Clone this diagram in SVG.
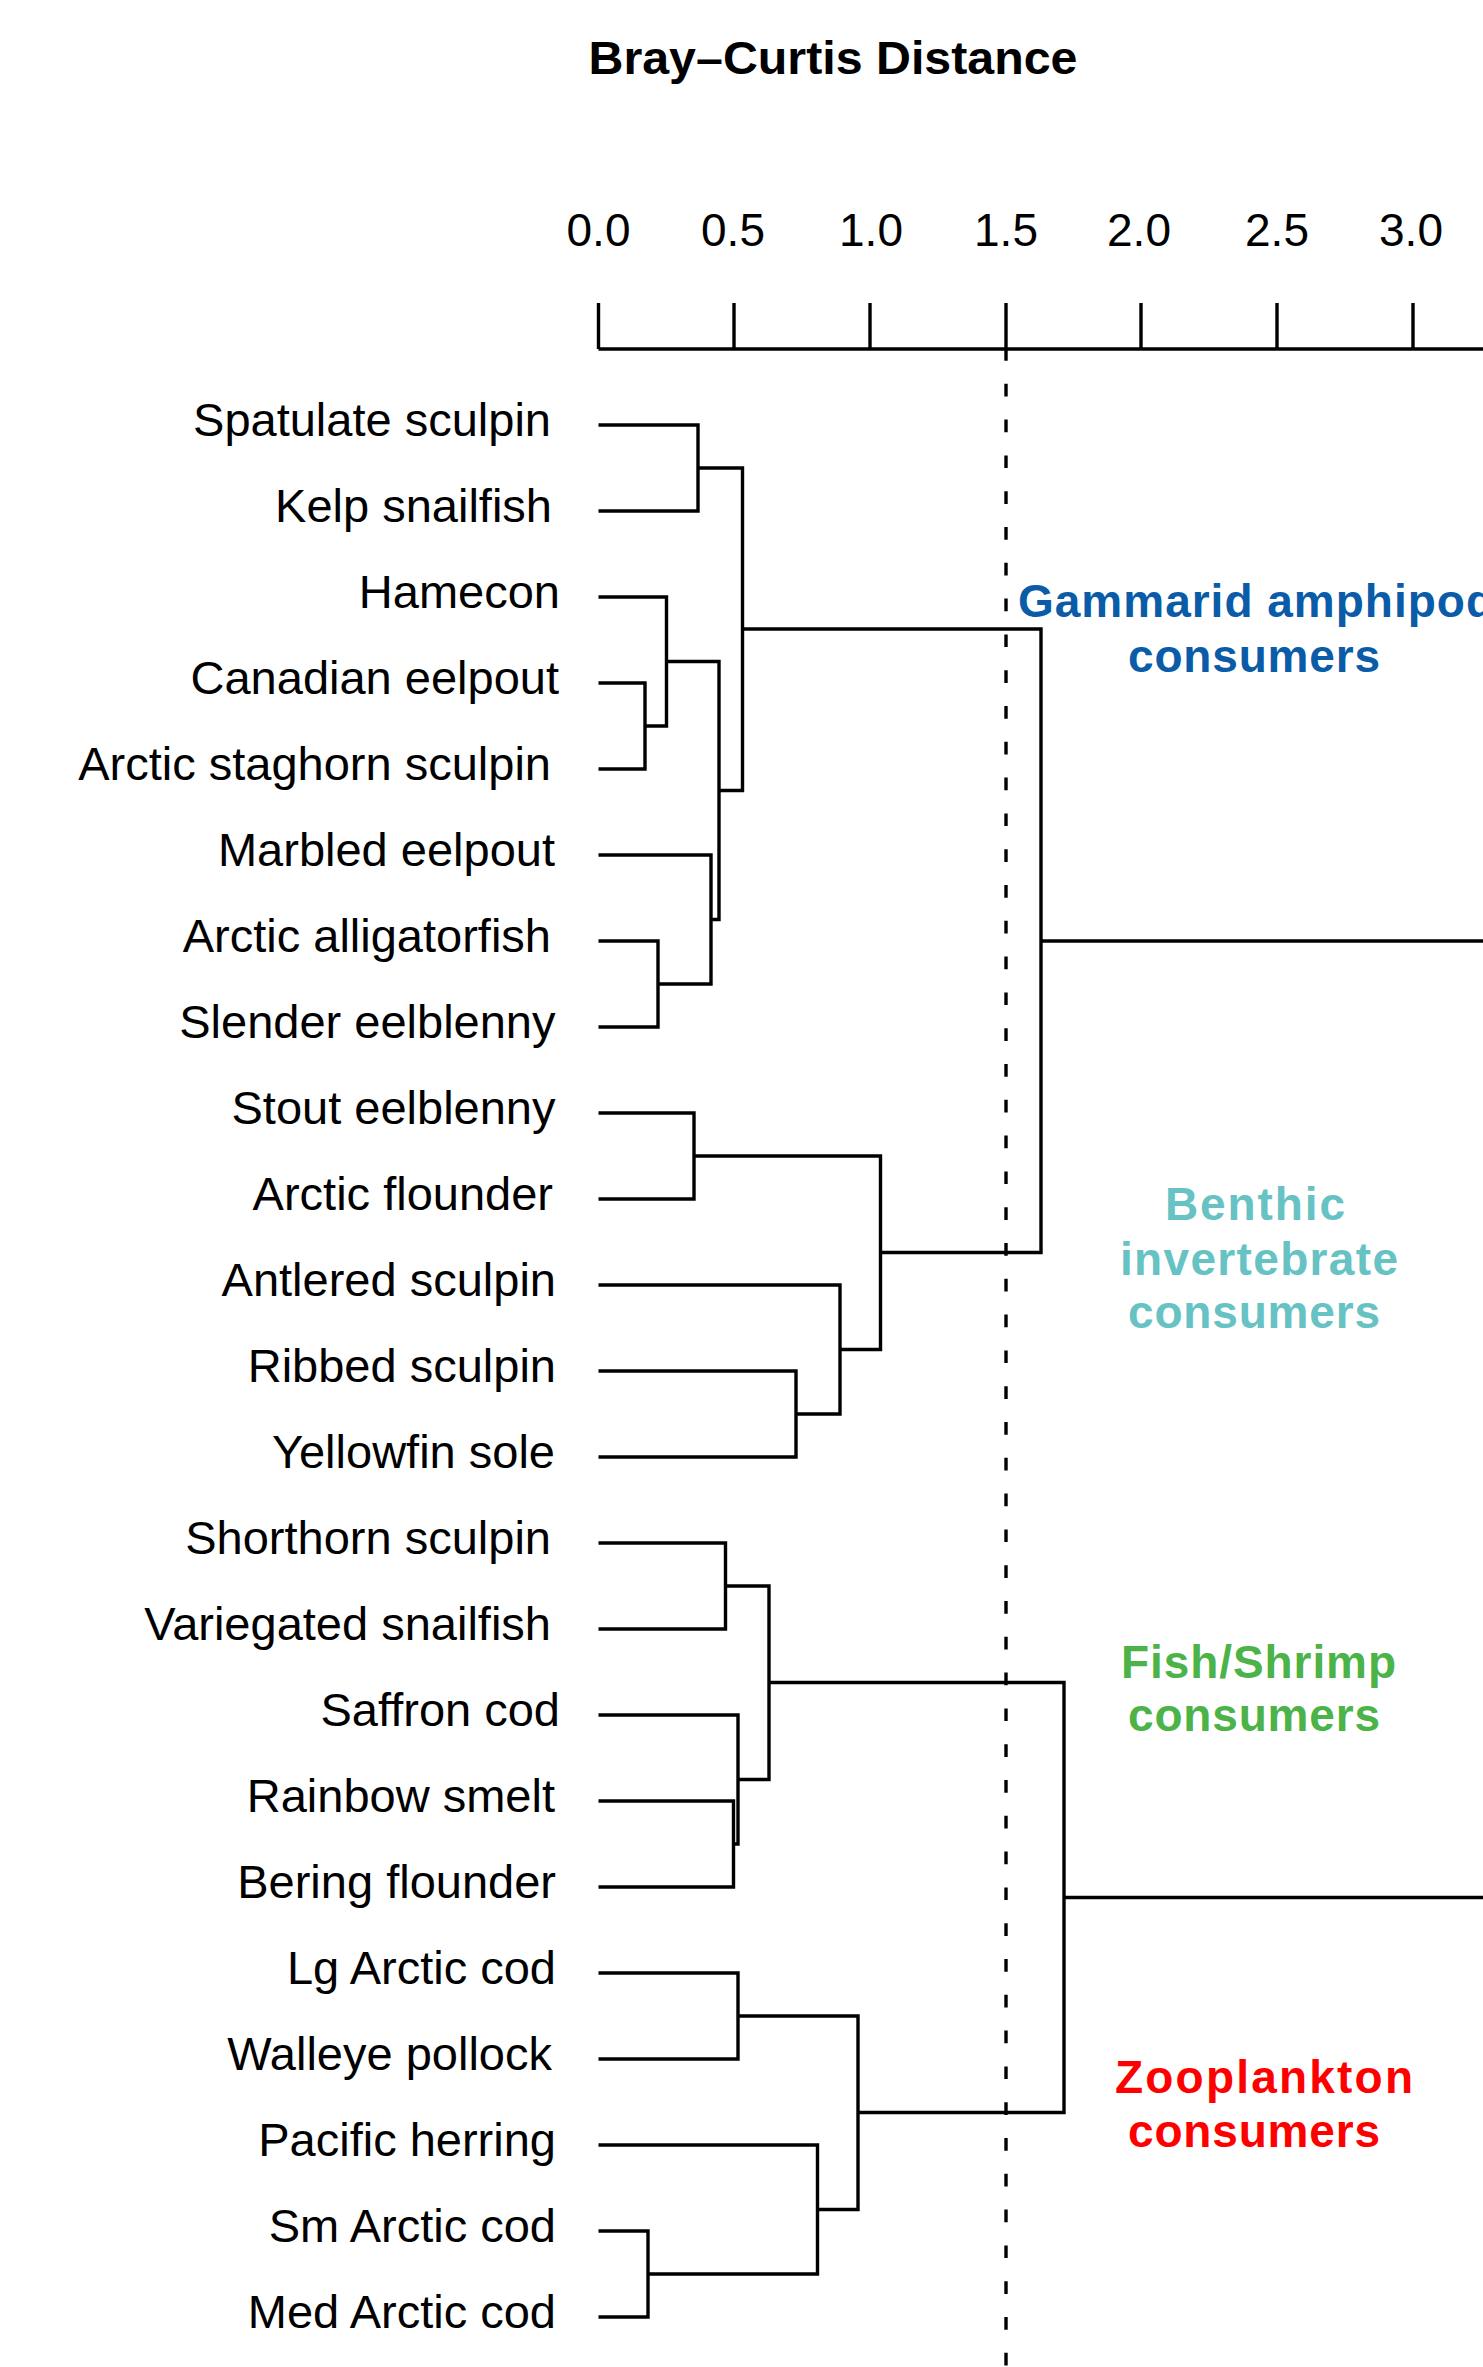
<svg xmlns="http://www.w3.org/2000/svg" width="1483" height="2367" viewBox="0 0 1483 2367">
<style>
text{font-family:"Liberation Sans",Arial,Helvetica,sans-serif;}
.title{font-size:46px;font-weight:bold;fill:#000;text-anchor:middle;}
.tick{font-size:46px;fill:#000;text-anchor:middle;}
.leaf{font-size:47px;fill:#000;text-anchor:end;}
.grp{font-size:46px;font-weight:bold;text-anchor:middle;}
.blue{fill:#0a5ca8;}
.teal{fill:#66c2c3;}
.green{fill:#4cb348;}
.red{fill:#ff0000;}
.ln{fill:none;stroke:#000;stroke-width:3.4;stroke-linejoin:miter;stroke-linecap:butt;}
.cut{fill:none;stroke:#000;stroke-width:3.4;stroke-dasharray:12.7 23.1;}
</style>
<rect width="1483" height="2367" fill="#fff"/>
<g id="title"><text class="title" x="833" y="74" textLength="489" lengthAdjust="spacingAndGlyphs">Bray–Curtis Distance</text></g>
<g id="axis">
<path class="ln" d="M598.5 349 H1483 M598.5 303 V349 M734 303 V349 M870 303 V349 M1006 303 V349 M1141 303 V349 M1277 303 V349 M1413 303 V349"/>
<text class="tick" x="598.5" y="246">0.0</text>
<text class="tick" x="733" y="246">0.5</text>
<text class="tick" x="871" y="246">1.0</text>
<text class="tick" x="1006" y="246">1.5</text>
<text class="tick" x="1139" y="246">2.0</text>
<text class="tick" x="1277" y="246">2.5</text>
<text class="tick" x="1411" y="246">3.0</text>
</g>
<g id="cutline"><path class="cut" d="M1006 348 V2367"/></g>
<g id="connectors">
<path class="ln" d="M598.5 425 H698 V511 H598.5"/>
<path class="ln" d="M598.5 683 H645 V769 H598.5"/>
<path class="ln" d="M598.5 597 H666.5 V726 H645"/>
<path class="ln" d="M598.5 941 H658 V1027 H598.5"/>
<path class="ln" d="M598.5 855 H711 V984 H658"/>
<path class="ln" d="M666.5 661.5 H719 V919.5 H711"/>
<path class="ln" d="M698 468 H742.5 V790.5 H719"/>
<path class="ln" d="M598.5 1113 H694 V1199 H598.5"/>
<path class="ln" d="M598.5 1371 H796 V1457 H598.5"/>
<path class="ln" d="M598.5 1285 H840 V1414 H796"/>
<path class="ln" d="M694 1156 H880.5 V1349.5 H840"/>
<path class="ln" d="M742.5 629 H1041 V1252.5 H880.5"/>
<path class="ln" d="M1041 941 H1483"/>
<path class="ln" d="M598.5 1543 H725.5 V1629 H598.5"/>
<path class="ln" d="M598.5 1801 H733.5 V1887 H598.5"/>
<path class="ln" d="M598.5 1715 H738 V1844 H733.5"/>
<path class="ln" d="M725.5 1586 H769 V1779.5 H738"/>
<path class="ln" d="M598.5 1973 H738 V2059 H598.5"/>
<path class="ln" d="M598.5 2231 H648 V2317 H598.5"/>
<path class="ln" d="M598.5 2145 H817.5 V2274 H648"/>
<path class="ln" d="M738 2016 H858 V2209.5 H817.5"/>
<path class="ln" d="M769 1682.5 H1064 V2112.5 H858"/>
<path class="ln" d="M1064 1897.5 H1483"/>
</g>
<g id="leaf-spatulate-sculpin"><text class="leaf" x="551" y="436">Spatulate sculpin</text></g>
<g id="leaf-kelp-snailfish"><text class="leaf" x="552" y="522">Kelp snailfish</text></g>
<g id="leaf-hamecon"><text class="leaf" x="560" y="608">Hamecon</text></g>
<g id="leaf-canadian-eelpout"><text class="leaf" x="559" y="694">Canadian eelpout</text></g>
<g id="leaf-arctic-staghorn-sculpin"><text class="leaf" x="551" y="780">Arctic staghorn sculpin</text></g>
<g id="leaf-marbled-eelpout"><text class="leaf" x="555" y="866">Marbled eelpout</text></g>
<g id="leaf-arctic-alligatorfish"><text class="leaf" x="551" y="952">Arctic alligatorfish</text></g>
<g id="leaf-slender-eelblenny"><text class="leaf" x="555.5" y="1038">Slender eelblenny</text></g>
<g id="leaf-stout-eelblenny"><text class="leaf" x="555.5" y="1124">Stout eelblenny</text></g>
<g id="leaf-arctic-flounder"><text class="leaf" x="553" y="1210">Arctic flounder</text></g>
<g id="leaf-antlered-sculpin"><text class="leaf" x="556" y="1296">Antlered sculpin</text></g>
<g id="leaf-ribbed-sculpin"><text class="leaf" x="556" y="1382">Ribbed sculpin</text></g>
<g id="leaf-yellowfin-sole"><text class="leaf" x="555" y="1468">Yellowfin sole</text></g>
<g id="leaf-shorthorn-sculpin"><text class="leaf" x="551" y="1554">Shorthorn sculpin</text></g>
<g id="leaf-variegated-snailfish"><text class="leaf" x="551" y="1640">Variegated snailfish</text></g>
<g id="leaf-saffron-cod"><text class="leaf" x="560" y="1726">Saffron cod</text></g>
<g id="leaf-rainbow-smelt"><text class="leaf" x="555" y="1812">Rainbow smelt</text></g>
<g id="leaf-bering-flounder"><text class="leaf" x="556" y="1898">Bering flounder</text></g>
<g id="leaf-lg-arctic-cod"><text class="leaf" x="556" y="1984">Lg Arctic cod</text></g>
<g id="leaf-walleye-pollock"><text class="leaf" x="552" y="2070">Walleye pollock</text></g>
<g id="leaf-pacific-herring"><text class="leaf" x="556" y="2156">Pacific herring</text></g>
<g id="leaf-sm-arctic-cod"><text class="leaf" x="556" y="2242">Sm Arctic cod</text></g>
<g id="leaf-med-arctic-cod"><text class="leaf" x="556" y="2328">Med Arctic cod</text></g>
<g id="group-gammarid">
<text class="grp blue" x="1256" y="616.5" textLength="476" lengthAdjust="spacing">Gammarid amphipod</text>
<text class="grp blue" x="1254" y="671.5" textLength="252" lengthAdjust="spacing">consumers</text>
</g>
<g id="group-benthic">
<text class="grp teal" x="1255" y="1219.5" textLength="180" lengthAdjust="spacing">Benthic</text>
<text class="grp teal" x="1259" y="1274.5" textLength="278" lengthAdjust="spacing">invertebrate</text>
<text class="grp teal" x="1254" y="1328" textLength="252" lengthAdjust="spacing">consumers</text>
</g>
<g id="group-fish-shrimp">
<text class="grp green" x="1258.5" y="1677.5" textLength="275" lengthAdjust="spacing">Fish/Shrimp</text>
<text class="grp green" x="1254" y="1731" textLength="252" lengthAdjust="spacing">consumers</text>
</g>
<g id="group-zooplankton">
<text class="grp red" x="1264" y="2093" textLength="298" lengthAdjust="spacing">Zooplankton</text>
<text class="grp red" x="1254" y="2147" textLength="252" lengthAdjust="spacing">consumers</text>
</g>
</svg>
